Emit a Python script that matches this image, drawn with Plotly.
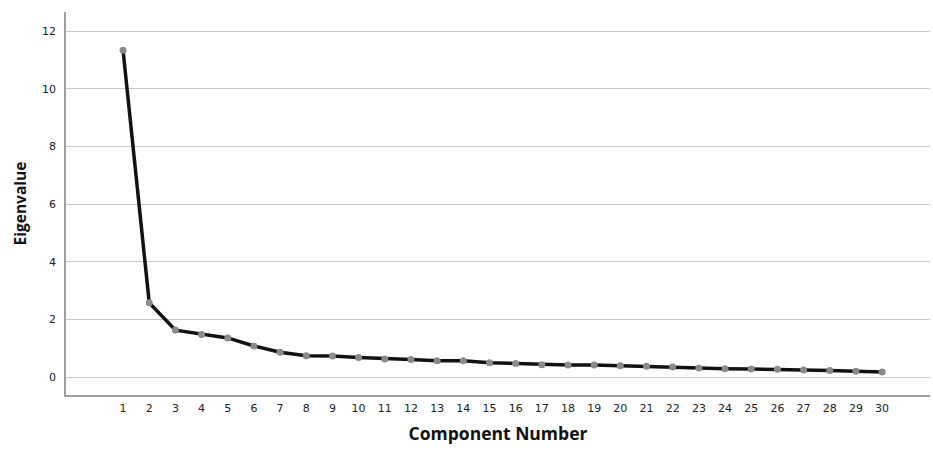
import plotly.graph_objects as go

components = list(range(1, 31))
eigenvalues = [11.33, 2.58, 1.63, 1.48, 1.36, 1.08, 0.86, 0.74, 0.73, 0.68,
               0.63, 0.61, 0.57, 0.57, 0.50, 0.47, 0.43, 0.42, 0.42, 0.39,
               0.38, 0.35, 0.32, 0.29, 0.28, 0.27, 0.25, 0.23, 0.20, 0.18]
y_ticks = [0, 2, 4, 6, 8, 10, 12]

fig = go.Figure()
fig.add_trace(go.Scatter(
    x=components, y=eigenvalues, mode="lines+markers",
    line=dict(color="#111111", width=3.5),
    marker=dict(color="#8a8a8a", size=7, line=dict(width=0)),
    showlegend=False,
))

fig.update_layout(
    width=933, height=457,
    margin=dict(l=66, r=3, t=12, b=62),
    paper_bgcolor="white", plot_bgcolor="white",
    font=dict(family="DejaVu Sans", color="#222222"),
    xaxis=dict(
        range=[-1.18, 31.83], tickmode="array", tickvals=components,
        ticktext=[str(c) for c in components], automargin=False,
        showgrid=False, zeroline=False, showline=True, linecolor="#a0a0a0", linewidth=1.5,
        ticks="", ticklabelstandoff=2, tickfont=dict(size=11, family="DejaVu Sans", color="#222222"),
        title=dict(text="<b>Component Number</b>", font=dict(family="Open Sans", size=17.5, color="#111111"), standoff=14),
    ),
    yaxis=dict(
        range=[-0.62, 12.66], tickmode="array", tickvals=y_ticks, automargin=False,
        showgrid=True, gridcolor="#c8c8c8", gridwidth=1, zeroline=False,
        showline=True, linecolor="#a0a0a0", linewidth=1.5,
        ticks="", ticklabelstandoff=6, tickfont=dict(size=11, family="DejaVu Sans", color="#222222"),
        title=dict(text="<b>Eigenvalue</b>", font=dict(family="Open Sans", size=15.5, color="#111111"), standoff=12),
    ),
)

fig.write_html(
    "out.html",
    config={"displayModeBar": False},
    post_script="document.body.style.margin='0';document.body.style.overflow='hidden';",
)
